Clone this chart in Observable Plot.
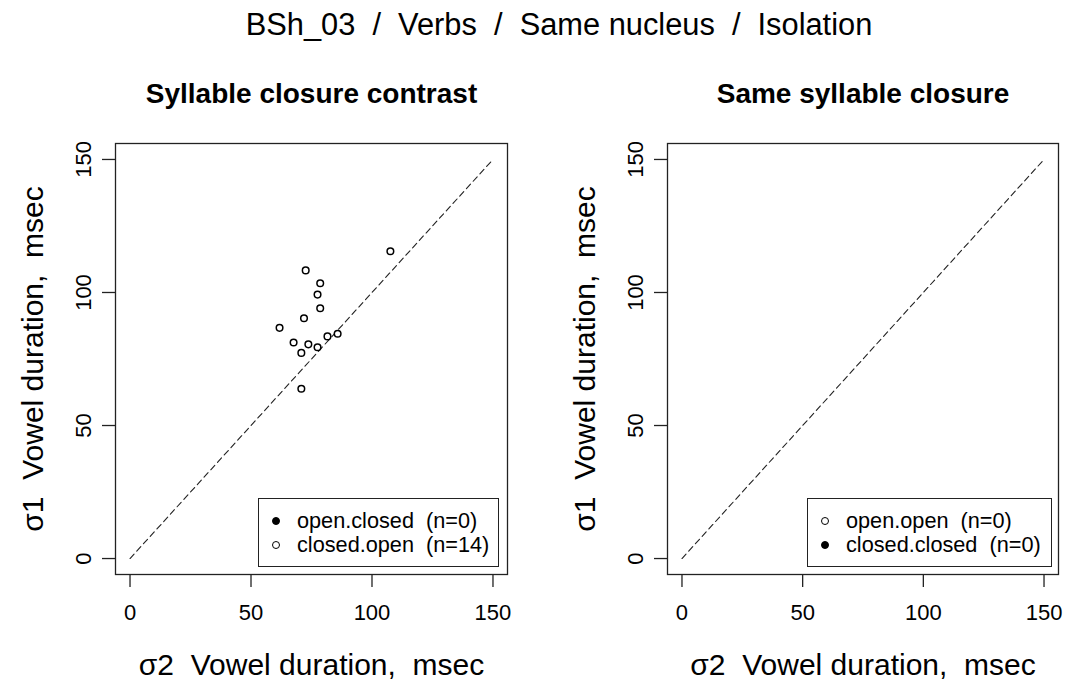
<!DOCTYPE html>
<html>
<head>
<meta charset="utf-8">
<script src="https://cdn.jsdelivr.net/npm/d3@7"></script>
<script src="https://cdn.jsdelivr.net/npm/@observablehq/plot@0.6"></script>
<style>
  html, body { margin: 0; padding: 0; background: #fff; }
  body { width: 1066px; height: 679px; position: relative; overflow: hidden;
         font-family: "Liberation Sans", Arial, sans-serif; color: #000; }
  #main-title { position: absolute; left: 0; top: 8px; width: 1118px; text-align: center;
                font-size: 30.8px; line-height: 34px; white-space: pre; }
  .panel { position: absolute; top: 50px; }
  .panel svg { overflow: visible; }
  .legend { position: absolute; border: 1.3px solid #222; box-sizing: border-box;
            font-size: 21.7px; line-height: 24px; padding: 10px 0 0 0; }
  .legend .row { display: flex; align-items: center; white-space: pre; }
  .legend .sym { width: 8px; height: 8px; border-radius: 50%; border: 1.4px solid #000;
                 box-sizing: border-box; margin: 0 17px 0 13px; }
  .legend .sym.filled { background: #000; }
  .legend .sym.open { background: #fff; }
</style>
</head>
<body>
<div id="main-title"></div>
<div id="left" class="panel" style="left:0px"></div>
<div id="right" class="panel" style="left:552px"></div>
<div id="legend-left" class="legend" style="left:258px; top:498px; width:241px; height:69px"></div>
<div id="legend-right" class="legend" style="left:807px; top:498px; width:245px; height:69px"></div>
<script>
// Header and panel labels
const mainTitle = "BSh_03  /  Verbs  /  Same nucleus  /  Isolation";
const panelTitles = ["Syllable closure contrast", "Same syllable closure"];
const xLabel = "σ2  Vowel duration,  msec";
const yLabel = "σ1  Vowel duration,  msec";

// Axis ticks (msec)
const ticks = [0, 50, 100, 150];
const axisDomain = [-6, 156];
const diagonal = [0, 150];

// Syllable closure contrast: closed.open pairs (σ2 duration, σ1 duration)
const closedOpenS2 = [107.6, 72.6, 78.6, 77.5, 78.6, 71.9, 61.8, 85.8, 81.6, 67.6, 73.7, 77.5, 70.8, 70.8];
const closedOpenS1 = [115.5, 108.3, 103.5, 99.2, 94.1, 90.3, 86.7, 84.5, 83.5, 81.2, 80.5, 79.4, 77.3, 63.8];
// open.closed pairs: none recorded
const openClosedS2 = [];
const openClosedS1 = [];

// Same syllable closure: no pairs recorded
const openOpenS2 = [], openOpenS1 = [];
const closedClosedS2 = [], closedClosedS1 = [];

const legendLeft = [
  {label: "open.closed  (n=" + openClosedS2.length + ")", filled: true},
  {label: "closed.open  (n=" + closedOpenS2.length + ")", filled: false}
];
const legendRight = [
  {label: "open.open  (n=" + openOpenS2.length + ")", filled: false},
  {label: "closed.closed  (n=" + closedClosedS2.length + ")", filled: true}
];

document.getElementById("main-title").textContent = mainTitle;

function pairs(xs, ys) { return xs.map((x, i) => ({x, y: ys[i]})); }

function panel(title, openPts, filledPts, width, marginLeft, marginRight) {
  const diag = diagonal.map(v => ({x: v, y: v}));
  return Plot.plot({
    width, height: 629,
    marginTop: 93, marginBottom: 105, marginLeft, marginRight,
    style: {fontFamily: "Liberation Sans, Arial, sans-serif", color: "#000", background: "#fff", overflow: "visible"},
    x: {domain: axisDomain, axis: null},
    y: {domain: axisDomain, axis: null},
    marks: [
      Plot.frame({stroke: "#222", strokeWidth: 1.3}),
      Plot.axisX({ticks, tickSize: 13, tickPadding: 17, fontSize: 22, stroke: "#222", strokeWidth: 1.3, label: null}),
      Plot.axisY({ticks, tickSize: 13, tickFormat: () => "", stroke: "#222", strokeWidth: 1.3, label: null}),
      Plot.text(ticks, {y: d => d, text: d => String(d), frameAnchor: "left", dx: -25,
        rotate: -90, textAnchor: "middle", lineAnchor: "bottom", fontSize: 22}),
      Plot.text([xLabel], {frameAnchor: "bottom", dy: 100, textAnchor: "middle", lineAnchor: "bottom", fontSize: 30}),
      Plot.text([yLabel], {frameAnchor: "left", dx: -73, rotate: -90, textAnchor: "middle", lineAnchor: "bottom", fontSize: 30}),
      Plot.text([title], {frameAnchor: "top", dy: -41, textAnchor: "middle", lineAnchor: "bottom", fontSize: 28, fontWeight: "bold"}),
      Plot.line(diag, {x: "x", y: "y", stroke: "#222", strokeWidth: 1.1, strokeDasharray: "6,4"}),
      Plot.dot(openPts, {x: "x", y: "y", r: 3.3, stroke: "#000", strokeWidth: 1.5, fill: "#fff"}),
      Plot.dot(filledPts, {x: "x", y: "y", r: 3.3, stroke: "#000", strokeWidth: 1.5, fill: "#000"})
    ]
  });
}

document.getElementById("left").append(
  panel(panelTitles[0], pairs(closedOpenS2, closedOpenS1), pairs(openClosedS2, openClosedS1), 533, 115, 26)
);
document.getElementById("right").append(
  panel(panelTitles[1], pairs(openOpenS2, openOpenS1), pairs(closedClosedS2, closedClosedS1), 514, 115, 8)
);

function legend(id, items) {
  const el = document.getElementById(id);
  for (const item of items) {
    const row = document.createElement("div");
    row.className = "row";
    const sym = document.createElement("span");
    sym.className = "sym " + (item.filled ? "filled" : "open");
    const txt = document.createElement("span");
    txt.textContent = item.label;
    row.append(sym, txt);
    el.append(row);
  }
}
legend("legend-left", legendLeft);
legend("legend-right", legendRight);
</script>
</body>
</html>
